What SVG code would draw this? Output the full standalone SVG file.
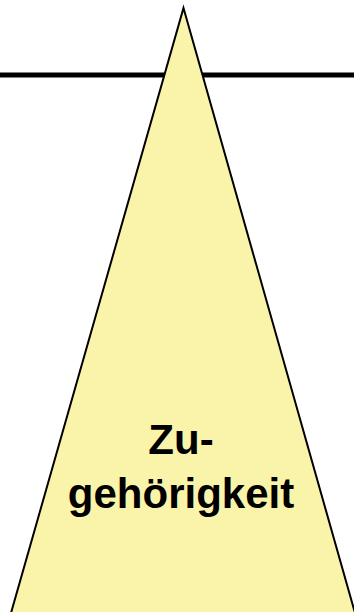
<svg xmlns="http://www.w3.org/2000/svg" width="354" height="612" viewBox="0 0 354 612">
<style>
.lbl{font-family:"Liberation Sans",Arial,sans-serif;font-weight:bold;font-size:42px;fill:#000;text-anchor:middle}
</style>
<rect width="354" height="612" fill="#fff"/>
<g id="connectors">
<line x1="0" y1="75" x2="354" y2="75" stroke="#000" stroke-width="5"/>
</g>
<g id="triangle">
<polygon points="183.5,8 357,620 9,620" fill="#FAF4AA" stroke="#000" stroke-width="2" stroke-linejoin="miter"/>
<text class="lbl" x="181" y="454">Zu-</text>
<text class="lbl" x="181" y="508">gehörigkeit</text>
</g>
</svg>
